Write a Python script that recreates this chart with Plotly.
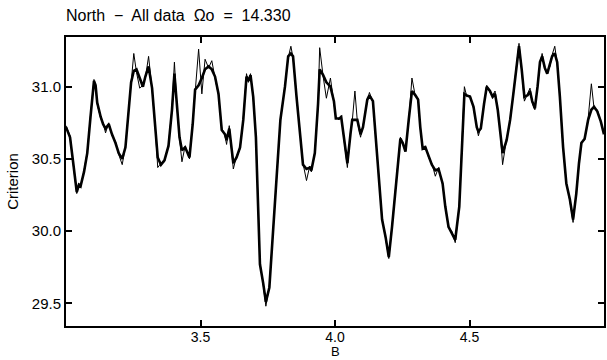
import plotly.graph_objects as go

# B values (shared grid) and Criterion values for the two curves
b_vals = [3.000, 3.015, 3.027, 3.040, 3.048, 3.054, 3.067, 3.079, 3.091, 3.104,
          3.110, 3.116, 3.129, 3.138, 3.147, 3.159, 3.171, 3.184, 3.196, 3.209,
          3.221, 3.233, 3.242, 3.252, 3.262, 3.274, 3.286, 3.295, 3.307, 3.320,
          3.332, 3.341, 3.353, 3.366, 3.381, 3.394, 3.403, 3.412, 3.422, 3.431,
          3.443, 3.459, 3.471, 3.480, 3.493, 3.505, 3.517, 3.530, 3.542, 3.554,
          3.567, 3.579, 3.591, 3.597, 3.607, 3.622, 3.634, 3.647, 3.659, 3.671,
          3.678, 3.686, 3.696, 3.706, 3.715, 3.721, 3.733, 3.743, 3.756, 3.768,
          3.783, 3.797, 3.814, 3.826, 3.836, 3.844, 3.857, 3.871, 3.881, 3.894,
          3.906, 3.912, 3.925, 3.937, 3.943, 3.956, 3.968, 3.983, 3.996, 4.003,
          4.015, 4.023, 4.033, 4.046, 4.058, 4.064, 4.074, 4.083, 4.095, 4.104,
          4.120, 4.128, 4.141, 4.151, 4.163, 4.175, 4.188, 4.200, 4.212, 4.227,
          4.243, 4.252, 4.262, 4.274, 4.286, 4.299, 4.309, 4.317, 4.326, 4.336,
          4.348, 4.360, 4.373, 4.385, 4.400, 4.410, 4.422, 4.434, 4.447, 4.462,
          4.471, 4.481, 4.490, 4.502, 4.515, 4.527, 4.533, 4.542, 4.554, 4.564,
          4.576, 4.586, 4.595, 4.605, 4.614, 4.623, 4.638, 4.651, 4.663, 4.675,
          4.684, 4.694, 4.704, 4.716, 4.725, 4.733, 4.743, 4.753, 4.762, 4.770,
          4.780, 4.789, 4.799, 4.807, 4.817, 4.826, 4.836, 4.848, 4.860, 4.873,
          4.885, 4.897, 4.907, 4.916, 4.928, 4.941, 4.953, 4.963, 4.975, 4.988,
          5.000]

criterion_smooth = [30.72, 30.65, 30.47, 30.27, 30.32, 30.31, 30.41, 30.54, 30.79, 31.04,
                    31.01, 30.89, 30.79, 30.74, 30.71, 30.74, 30.67, 30.61, 30.54, 30.50,
                    30.58, 30.81, 31.03, 31.11, 31.12, 31.06, 31.00, 31.07, 31.14, 30.99,
                    30.70, 30.51, 30.46, 30.49, 30.59, 30.84, 31.09, 30.88, 30.65, 30.56,
                    30.58, 30.51, 30.74, 30.98, 31.01, 31.06, 31.12, 31.14, 31.12, 31.07,
                    30.95, 30.70, 30.67, 30.63, 30.71, 30.47, 30.51, 30.58, 30.77, 31.07,
                    31.04, 31.08, 30.93, 30.65, 30.19, 29.77, 29.64, 29.51, 29.61, 29.96,
                    30.42, 30.77, 31.00, 31.21, 31.23, 31.21, 30.93, 30.65, 30.46, 30.43,
                    30.44, 30.42, 30.54, 30.88, 31.12, 31.08, 31.03, 31.00, 30.90, 30.78,
                    30.78, 30.79, 30.65, 30.47, 30.68, 30.77, 30.77, 30.77, 30.67, 30.72,
                    30.91, 30.94, 30.90, 30.65, 30.35, 30.08, 29.96, 29.82, 30.03, 30.35,
                    30.64, 30.61, 30.55, 30.77, 30.97, 30.94, 30.91, 30.72, 30.57, 30.58,
                    30.52, 30.46, 30.42, 30.43, 30.33, 30.17, 30.03, 29.99, 29.94, 30.17,
                    30.54, 30.95, 30.94, 30.93, 30.86, 30.72, 30.69, 30.71, 30.88, 31.00,
                    30.97, 30.93, 30.95, 30.84, 30.69, 30.54, 30.63, 30.77, 30.95, 31.16,
                    31.28, 31.12, 30.93, 30.94, 30.97, 30.90, 30.85, 31.00, 31.17, 31.21,
                    31.13, 31.09, 31.15, 31.21, 31.23, 31.17, 30.93, 30.58, 30.33, 30.22,
                    30.08, 30.26, 30.47, 30.61, 30.64, 30.77, 30.84, 30.86, 30.83, 30.76,
                    30.67]

criterion_raw = [30.73, 30.66, 30.46, 30.26, 30.33, 30.30, 30.42, 30.55, 30.80, 31.05,
                 31.00, 30.88, 30.78, 30.75, 30.68, 30.75, 30.66, 30.62, 30.53, 30.46,
                 30.59, 30.82, 31.02, 31.23, 31.10, 30.99, 31.01, 31.06, 31.21, 30.98,
                 30.71, 30.44, 30.47, 30.48, 30.60, 30.85, 31.17, 30.87, 30.64, 30.48,
                 30.59, 30.50, 30.75, 30.97, 31.26, 30.95, 31.19, 31.13, 31.18, 31.06,
                 30.94, 30.71, 30.66, 30.60, 30.73, 30.43, 30.52, 30.57, 30.78, 31.09,
                 31.03, 31.09, 30.92, 30.66, 30.18, 29.78, 29.63, 29.48, 29.62, 29.95,
                 30.43, 30.76, 31.01, 31.20, 31.28, 31.20, 30.94, 30.64, 30.47, 30.35,
                 30.45, 30.41, 30.55, 30.87, 31.27, 31.07, 30.92, 31.06, 30.89, 30.79,
                 30.77, 30.80, 30.64, 30.44, 30.69, 30.76, 30.97, 30.76, 30.65, 30.73,
                 30.90, 30.96, 30.89, 30.66, 30.34, 30.09, 29.95, 29.81, 30.04, 30.34,
                 30.65, 30.60, 30.56, 30.76, 31.06, 30.93, 30.92, 30.71, 30.58, 30.59,
                 30.51, 30.47, 30.38, 30.44, 30.32, 30.18, 30.02, 30.00, 29.92, 30.18,
                 30.55, 31.00, 30.93, 30.94, 30.85, 30.73, 30.66, 30.72, 30.87, 31.01,
                 30.96, 30.94, 30.97, 30.83, 30.70, 30.46, 30.64, 30.76, 30.96, 31.15,
                 31.30, 31.11, 30.90, 30.95, 30.99, 30.89, 30.84, 31.01, 31.16, 31.23,
                 31.12, 31.10, 31.14, 31.22, 31.28, 31.16, 30.94, 30.57, 30.34, 30.21,
                 30.06, 30.27, 30.46, 30.62, 30.63, 30.78, 31.02, 30.85, 30.84, 30.75,
                 30.68]

x_ticks = [3.5, 4.0, 4.5]
y_ticks = [29.5, 30.0, 30.5, 31.0]

FONT = "Liberation Sans"

fig = go.Figure()
fig.add_trace(go.Scatter(x=b_vals, y=criterion_raw, mode="lines",
                         line=dict(color="black", width=1), showlegend=False))
fig.add_trace(go.Scatter(x=b_vals, y=criterion_smooth, mode="lines",
                         line=dict(color="black", width=2.6), showlegend=False))

axis_common = dict(showline=True, linecolor="black", linewidth=2, mirror="ticks",
                   ticks="inside", ticklen=6, tickwidth=1.5, tickcolor="black",
                   showgrid=False, zeroline=False)

fig.update_xaxes(range=[3.0, 5.0], tickvals=x_ticks, ticktext=["3.5", "4.0", "4.5"],
                 tickfont=dict(family=FONT, size=14, color="black"),
                 ticklabelstandoff=-3,
                 **axis_common)
fig.update_yaxes(range=[29.343, 31.344], tickvals=y_ticks,
                 ticktext=["29.5", "30.0", "30.5", "31.0"],
                 tickfont=dict(family=FONT, size=15, color="black"),
                 title=dict(text="Criterion", font=dict(family=FONT, size=15, color="black"), standoff=10),
                 **axis_common)

fig.add_annotation(text="B", xref="x", x=4.0, yref="paper", y=-34 / 289,
                   yanchor="bottom", xanchor="center", showarrow=False, borderpad=0,
                   font=dict(family=FONT, size=13, color="black"))

fig.update_layout(
    width=607, height=360,
    margin=dict(l=66, r=1, t=37, b=34),
    paper_bgcolor="white", plot_bgcolor="white",
    title=dict(text="North  \u2212  All data  \u03a9o  =  14.330",
               x=66 / 607, xanchor="left", y=1 - 15 / 360, yanchor="middle",
               font=dict(family=FONT, size=16, color="black")),
)

fig.write_html("out.html")
